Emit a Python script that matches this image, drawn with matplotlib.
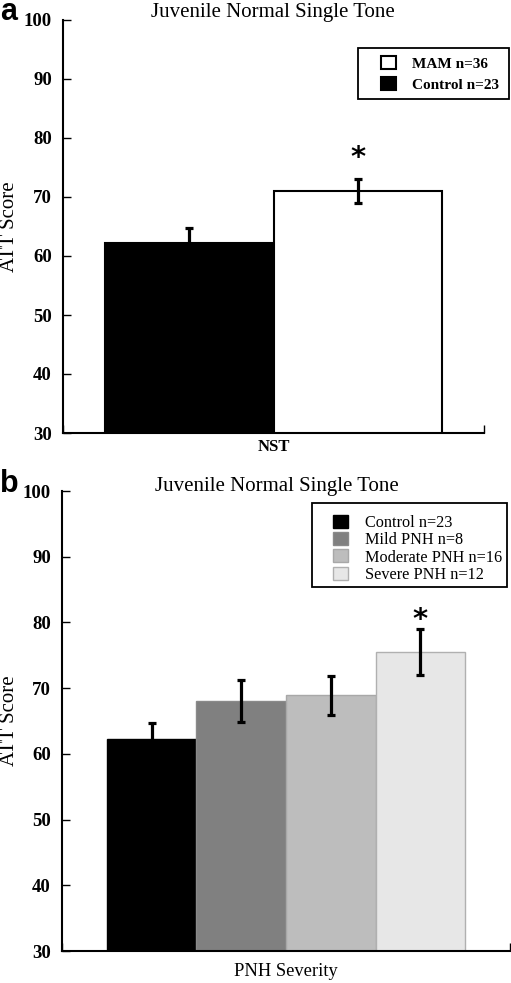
import matplotlib
matplotlib.use("Agg")
import matplotlib.pyplot as plt
from matplotlib.patches import Rectangle

plt.rcParams["font.family"] = ["Liberation Serif", "DejaVu Serif"]

# panel a
a_labels = ["MAM n=36", "Control n=23"]
a_means = [62.2, 71.0]      # control, MAM
a_errs = [2.6, 2.0]
a_colors = ["black", "white"]
a_star = 76.6

# panel b
b_labels = ["Control n=23", "Mild PNH n=8", "Moderate PNH n=16", "Severe PNH n=12"]
b_means = [62.2, 68.0, 68.9, 75.5]
b_errs = [2.5, 3.2, 3.0, 3.5]
b_colors = ["black", "#808080", "#bdbdbd", "#e7e7e7"]
b_edges = ["black", "#8a8a8a", "#a8a8a8", "#b0b0b0"]
b_star = 80.4

yticks = [30, 40, 50, 60, 70, 80, 90, 100]
title = "Juvenile Normal Single Tone"

fig = plt.figure(figsize=(5.11, 9.83), dpi=100)
W, H = 511, 983


def add_axes(l, r, t, b):
    return fig.add_axes([l / W, 1 - b / H, (r - l) / W, (b - t) / H])


def frame_box(l, t, r, b):
    fig.patches.append(Rectangle((l / W, 1 - b / H), (r - l) / W, (b - t) / H,
                                 transform=fig.transFigure, fill=False,
                                 edgecolor="black", linewidth=1.3, zorder=5))


def style(ax, left_px, width_px):
    ax.set_xlim(0, 1)
    ax.set_ylim(30, 100)
    ax.set_yticks(yticks)
    ax.set_xticks([0, 1])
    ax.set_xticklabels([])
    for s in ["top", "right"]:
        ax.spines[s].set_visible(False)
    for s in ["left", "bottom"]:
        ax.spines[s].set_linewidth(1.5)
    ax.tick_params(axis="y", direction="in", length=6, width=1, labelsize=13.5, pad=8)
    ax.tick_params(axis="x", direction="in", length=6, width=1)
    for t in ax.get_yticklabels():
        t.set_fontweight("bold")
    ax.set_ylabel("ATT Score", fontsize=15)
    ax.yaxis.set_label_coords(-(left_px - 19) / width_px, 0.5)


# --- panel a ---
ax1 = add_axes(63, 484, 20, 433)
xa = [0.3, 0.7]
bars = ax1.bar(xa, a_means, width=0.4, color=a_colors, edgecolor="black",
               linewidth=1.5, zorder=2)
ax1.errorbar(xa, a_means, yerr=a_errs, fmt="none", ecolor="black",
             elinewidth=2.3, capsize=3, capthick=2.3, zorder=3)
ax1.text(xa[1], a_star, "*", ha="center", va="center", fontsize=21,
         fontweight="bold", family="DejaVu Sans")
style(ax1, 63, 421)
ax1.set_xlabel("NST", fontsize=12, fontweight="bold", labelpad=1)
fig.text(273 / W, 1 - 13 / H, title, fontsize=15, ha="center", va="center")
ax1.legend([bars[1], bars[0]], a_labels, loc="upper left",
           bbox_to_anchor=(381 / W, 1 - 56 / H), bbox_transform=fig.transFigure,
           borderaxespad=0, frameon=False,
           prop={"size": 11, "weight": "bold"}, handlelength=0.95,
           handleheight=0.9, handletextpad=1.1, borderpad=0, labelspacing=0.45)
frame_box(358, 48, 509, 99)

# --- panel b ---
ax2 = add_axes(62, 510, 491, 951)
xb = [0.2, 0.4, 0.6, 0.8]
bars_b = ax2.bar(xb, b_means, width=0.2, color=b_colors, edgecolor=b_edges,
                 linewidth=1, zorder=2)
ax2.errorbar(xb, b_means, yerr=b_errs, fmt="none", ecolor="black",
             elinewidth=2.3, capsize=3, capthick=2.3, zorder=3)
ax2.text(xb[3], b_star, "*", ha="center", va="center", fontsize=21,
         fontweight="bold", family="DejaVu Sans")
style(ax2, 62, 448)
ax2.set_xlabel("PNH Severity", fontsize=13.3, labelpad=5)
fig.text(277 / W, 1 - 487 / H, title, fontsize=15, ha="center", va="center")
ax2.legend(bars_b, b_labels, loc="upper left",
           bbox_to_anchor=(333 / W, 1 - 515 / H), bbox_transform=fig.transFigure,
           borderaxespad=0, frameon=False,
           prop={"size": 11.7}, handlelength=0.95, handleheight=0.85,
           handletextpad=1.0, borderpad=0, labelspacing=0.07)
frame_box(312, 503, 507, 587)

# panel letters
fig.text(0, 1 - 20 / H, "a", fontsize=22, fontweight="bold",
         family="Liberation Sans", va="baseline", ha="left")
fig.text(0, 1 - 492 / H, "b", fontsize=22, fontweight="bold",
         family="Liberation Sans", va="baseline", ha="left")

fig.savefig("out.png", dpi=100)
